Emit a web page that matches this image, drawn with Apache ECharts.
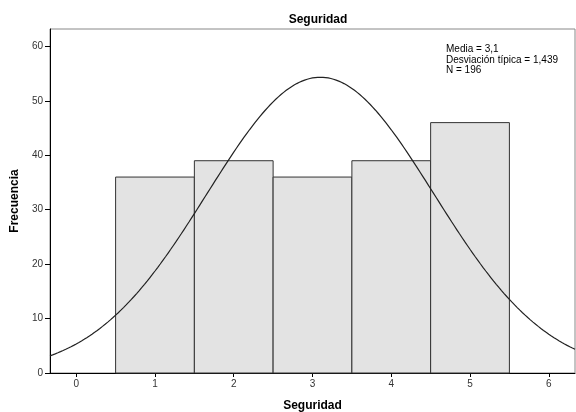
<!DOCTYPE html>
<html><head><meta charset="utf-8">
<script src="https://cdn.jsdelivr.net/npm/echarts@6/dist/echarts.min.js"></script>
<style>html,body{margin:0;padding:0;background:#fff}#c{width:576px;height:412px}</style>
</head><body><div id="c"></div>
<script>
const categories = [1, 2, 3, 4, 5];
const frequencies = [36, 39, 36, 39, 46];
const yTicks = [0, 10, 20, 30, 40, 50, 60];
const xTicks = [0, 1, 2, 3, 4, 5, 6];
const mean = 3.1;
const sd = 1.439;
const n = 196;
const statLines = ['Media = 3,1', 'Desviación típica = 1,439', 'N = 196'];

const xMin = -0.333, xMax = 6.333, yMax = 63.2;
const curve = [];
for (let i = 0; i <= 200; i++) {
  const x = xMin + (xMax - xMin) * i / 200;
  const y = n / (sd * Math.sqrt(2 * Math.PI)) * Math.exp(-0.5 * Math.pow((x - mean) / sd, 2));
  curve.push([x, y]);
}
const barData = categories.map((c, i) => [c, frequencies[i]]);

const chart = echarts.init(document.getElementById('c'));
const font = 'Liberation Sans, Arial, sans-serif';
chart.setOption({
  animation: false,
  title: {
    text: 'Seguridad', left: 313, top: 9, textAlign: 'center',
    textStyle: {fontFamily: font, fontSize: 12, fontWeight: 'bold', color: '#000'}
  },
  grid: {left: 50, right: 1, top: 29, bottom: 39, show: true, borderColor: '#888', borderWidth: 1,
         containLabel: false, outerBoundsMode: 'none'},
  xAxis: {
    type: 'value', min: xMin, max: xMax,
    name: 'Seguridad', nameLocation: 'middle', nameGap: 27,
    nameTextStyle: {fontFamily: font, fontSize: 12, fontWeight: 'bold', color: '#000'},
    axisLine: {show: true, onZero: false, lineStyle: {color: '#000', width: 1}},
    axisTick: {show: true, length: 4, customValues: xTicks, lineStyle: {color: '#000'}},
    axisLabel: {customValues: xTicks, fontFamily: font, fontSize: 10, color: '#333', margin: 6},
    splitLine: {show: false}
  },
  yAxis: {
    type: 'value', min: 0, max: yMax,
    name: 'Frecuencia', nameLocation: 'middle', nameGap: 27, nameRotate: 90,
    nameTextStyle: {fontFamily: font, fontSize: 12, fontWeight: 'bold', color: '#000'},
    axisLine: {show: true, onZero: false, lineStyle: {color: '#000', width: 1}},
    axisTick: {show: true, length: 5, customValues: yTicks, lineStyle: {color: '#000'}},
    axisLabel: {customValues: yTicks, fontFamily: font, fontSize: 10, color: '#333', margin: 7},
    splitLine: {show: false}
  },
  graphic: [{
    type: 'text', left: 446, top: 44,
    style: {text: statLines.join('\n'), font: '10px ' + font, lineHeight: 10.5, fill: '#000'}
  }],
  series: [{
    type: 'custom',
    data: barData,
    renderItem: function (params, api) {
      const x = api.value(0), y = api.value(1);
      const p0 = api.coord([x - 0.5, y]);
      const p1 = api.coord([x + 0.5, 0]);
      return {
        type: 'rect',
        shape: {x: p0[0], y: p0[1], width: p1[0] - p0[0], height: p1[1] - p0[1]},
        style: {fill: '#e3e3e3', stroke: '#333', lineWidth: 1}
      };
    },
    z: 2
  }, {
    type: 'line', data: curve, showSymbol: false, smooth: false,
    lineStyle: {color: '#222', width: 1.2}, z: 3
  }]
});
</script></body></html>
